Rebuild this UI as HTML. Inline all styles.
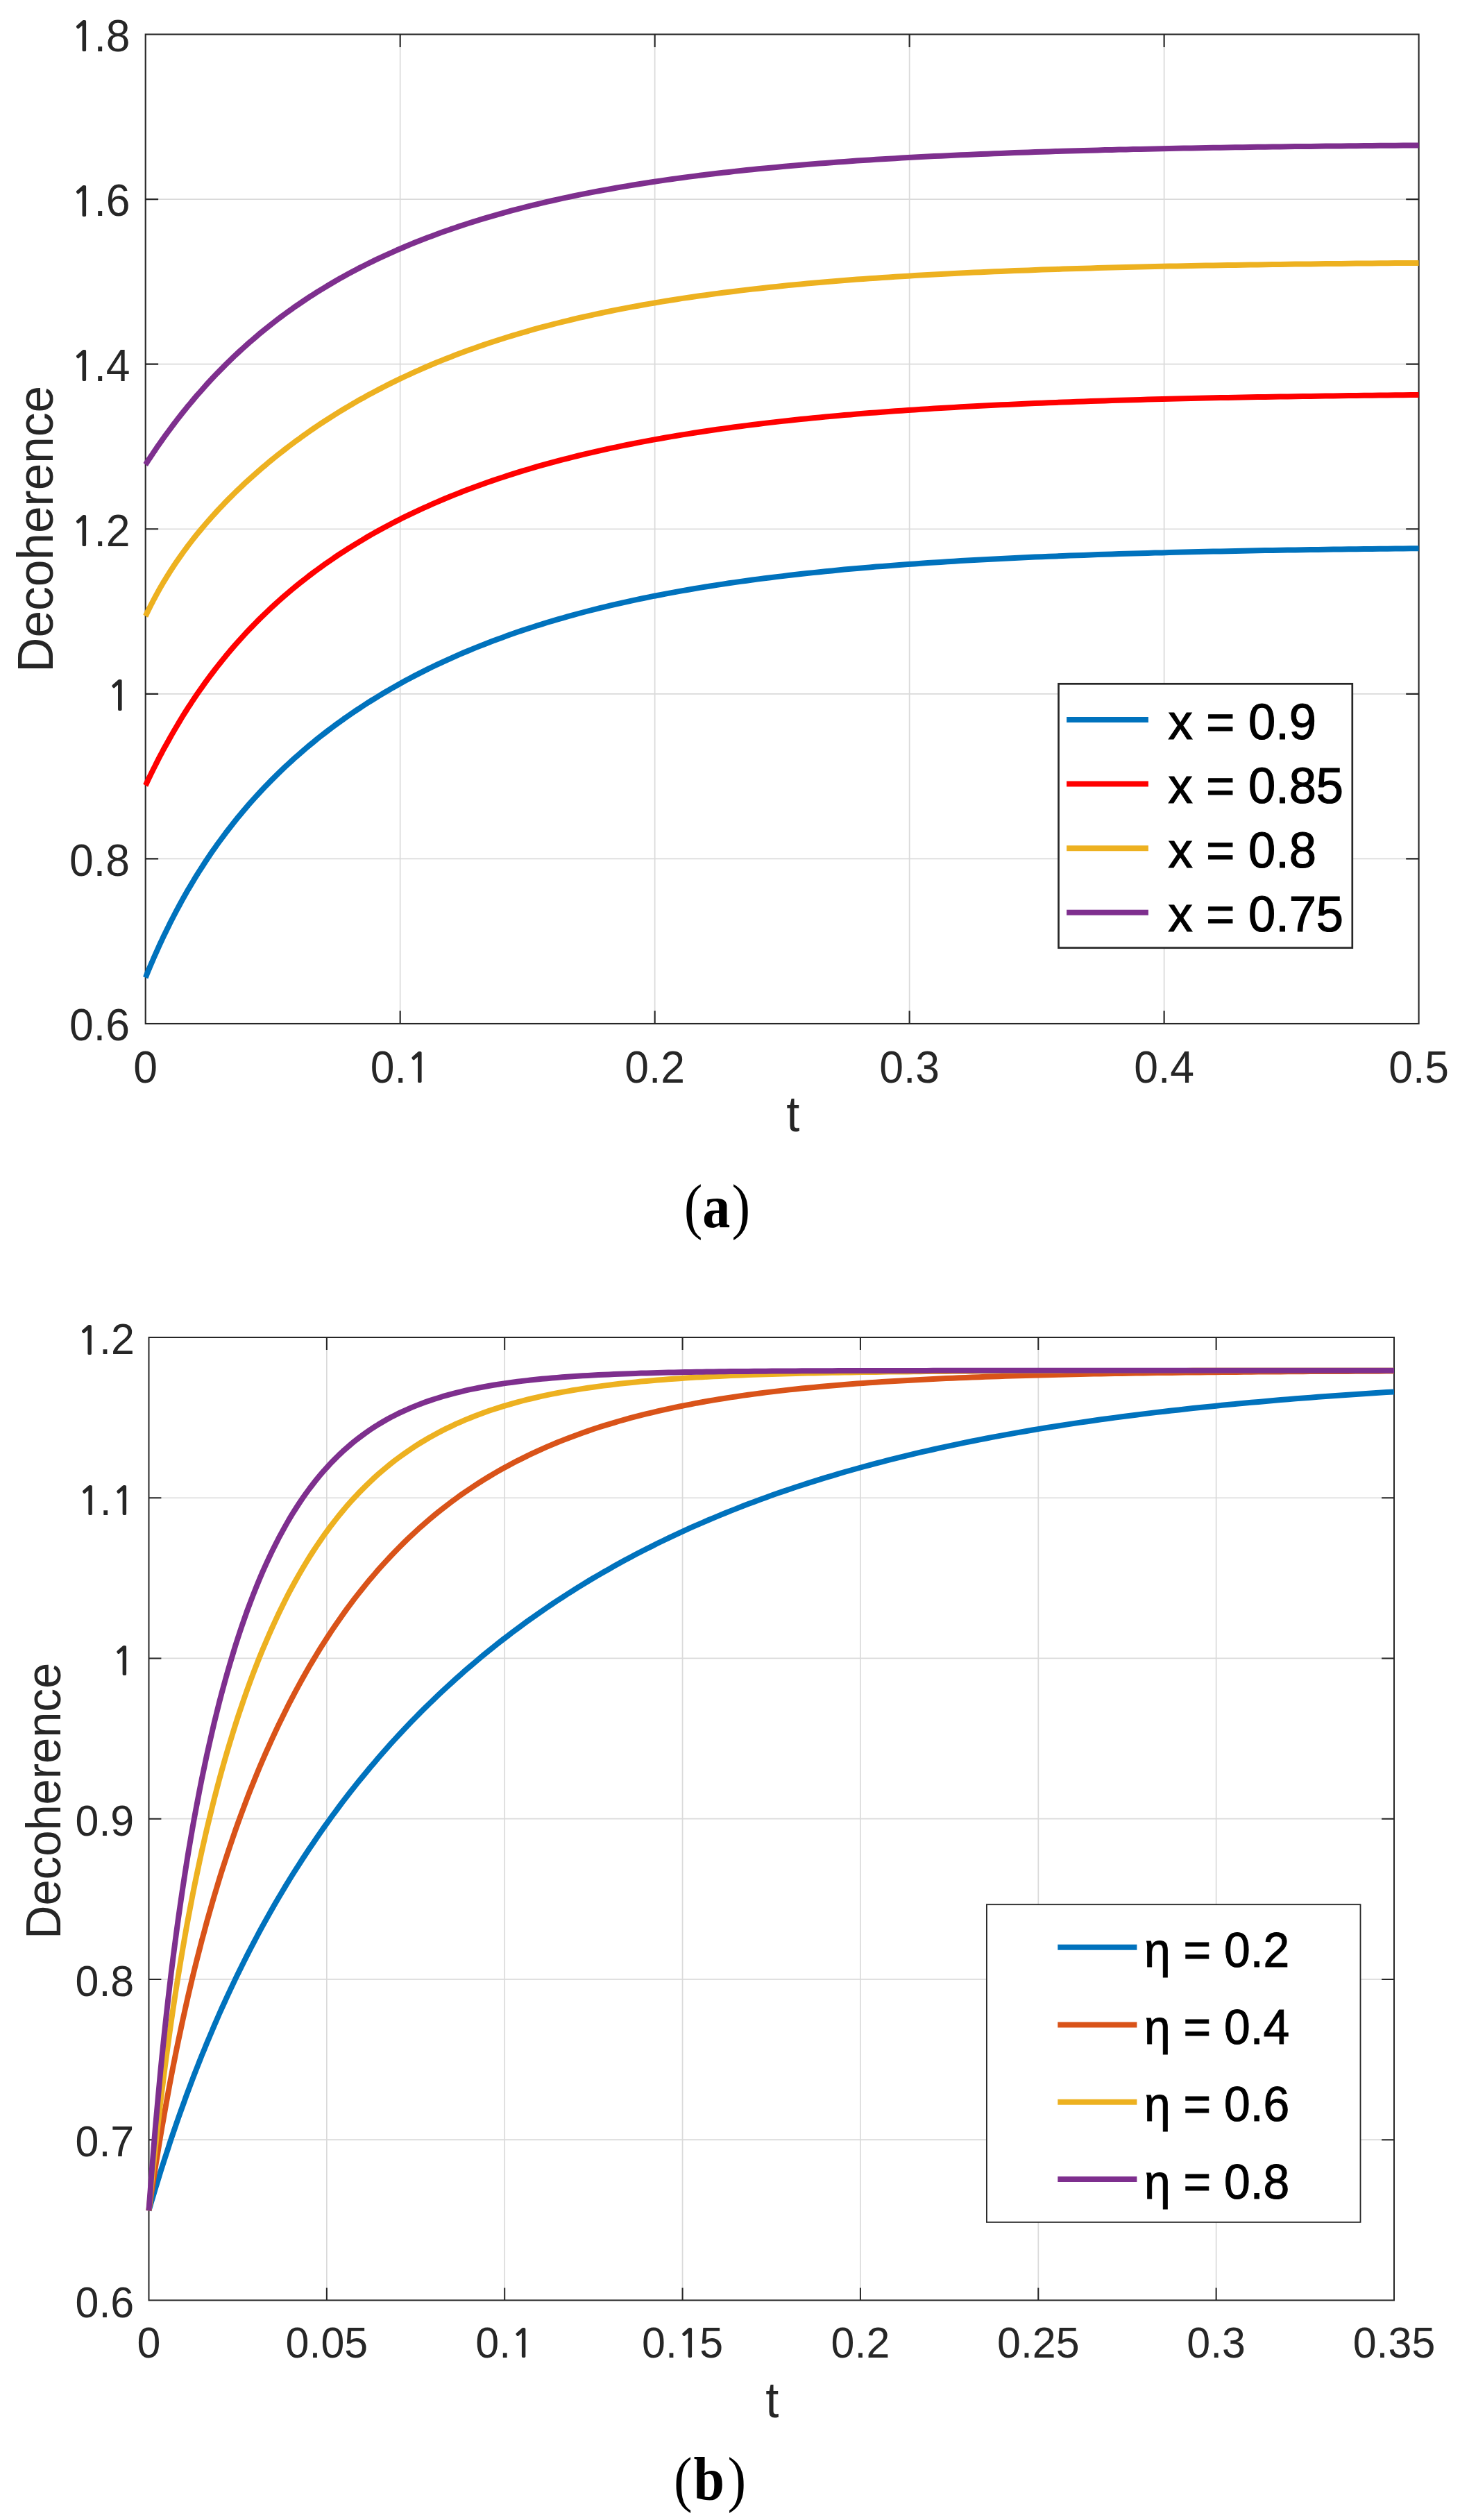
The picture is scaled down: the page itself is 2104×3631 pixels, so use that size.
<!DOCTYPE html>
<html><head><meta charset="utf-8"><title>Decoherence plots</title>
<style>html,body{margin:0;padding:0;background:#fff}svg{display:block}</style></head>
<body>
<svg width="2104" height="3631" viewBox="0 0 2104 3631">
<rect width="2104" height="3631" fill="#fff"/>
<path d="M576.68 49.50V1475.00M943.66 49.50V1475.00M1310.64 49.50V1475.00M1677.62 49.50V1475.00M209.70 1237.42H2044.60M209.70 999.83H2044.60M209.70 762.25H2044.60M209.70 524.67H2044.60M209.70 287.08H2044.60" stroke="#262626" stroke-opacity="0.17" stroke-width="1.70" fill="none"/>
<path d="M576.68 1475.00v-18.40M576.68 49.50v18.40M943.66 1475.00v-18.40M943.66 49.50v18.40M1310.64 1475.00v-18.40M1310.64 49.50v18.40M1677.62 1475.00v-18.40M1677.62 49.50v18.40M209.70 1237.42h18.40M2044.60 1237.42h-18.40M209.70 999.83h18.40M2044.60 999.83h-18.40M209.70 762.25h18.40M2044.60 762.25h-18.40M209.70 524.67h18.40M2044.60 524.67h-18.40M209.70 287.08h18.40M2044.60 287.08h-18.40" stroke="#262626" stroke-width="2.10" fill="none"/>
<rect x="209.70" y="49.50" width="1834.90" height="1425.50" fill="none" stroke="#262626" stroke-width="2.10"/>
<polyline points="209.7,1408.7 210.0,1408.0 210.5,1406.8 211.2,1405.0 212.0,1402.9 213.0,1400.5 214.1,1397.8 215.4,1394.8 216.7,1391.6 218.2,1388.2 219.8,1384.5 221.4,1380.7 223.2,1376.7 225.0,1372.6 226.9,1368.3 228.9,1363.8 231.0,1359.3 233.2,1354.6 235.4,1349.8 237.8,1344.9 240.2,1340.0 242.7,1334.9 245.2,1329.8 247.8,1324.7 250.5,1319.5 253.3,1314.2 256.1,1308.9 259.0,1303.5 261.9,1298.1 264.9,1292.7 268.0,1287.3 271.1,1281.8 274.4,1276.4 277.6,1270.9 280.9,1265.4 284.3,1259.9 287.8,1254.4 291.3,1249.0 294.8,1243.5 298.4,1238.0 302.1,1232.6 305.8,1227.1 309.6,1221.7 313.4,1216.3 317.3,1211.0 321.3,1205.6 325.2,1200.3 329.3,1195.0 333.4,1189.7 337.5,1184.5 341.7,1179.2 346.0,1174.1 350.3,1168.9 354.6,1163.8 359.0,1158.7 363.5,1153.6 368.0,1148.6 372.5,1143.7 377.1,1138.7 381.8,1133.8 386.5,1128.9 391.2,1124.1 396.0,1119.3 400.8,1114.6 405.7,1109.9 410.6,1105.2 415.6,1100.6 420.6,1096.0 425.6,1091.4 430.8,1086.9 435.9,1082.4 441.1,1078.0 446.3,1073.6 451.6,1069.3 456.9,1064.9 462.3,1060.7 467.7,1056.5 473.2,1052.3 478.7,1048.1 484.2,1044.0 489.8,1040.0 495.4,1035.9 501.1,1032.0 506.8,1028.0 512.5,1024.1 518.3,1020.3 524.1,1016.5 530.0,1012.7 535.9,1009.0 541.9,1005.3 547.9,1001.6 553.9,998.0 560.0,994.5 566.1,990.9 572.2,987.5 578.4,984.0 584.6,980.6 590.9,977.2 597.2,973.9 603.6,970.6 610.0,967.4 616.4,964.2 622.8,961.0 629.3,957.9 635.9,954.8 642.4,951.8 649.1,948.8 655.7,945.8 662.4,942.9 669.1,940.0 675.9,937.2 682.7,934.4 689.5,931.6 696.4,928.9 703.3,926.2 710.3,923.5 717.2,920.9 724.3,918.4 731.3,915.8 738.4,913.3 745.5,910.8 752.7,908.4 759.9,906.0 767.1,903.7 774.4,901.3 781.7,899.1 789.0,896.8 796.4,894.6 803.8,892.4 811.3,890.3 818.7,888.1 826.2,886.1 833.8,884.0 841.4,882.0 849.0,880.0 856.6,878.1 864.3,876.2 872.0,874.3 879.8,872.4 887.6,870.6 895.4,868.8 903.3,867.1 911.1,865.4 919.1,863.7 927.0,862.0 935.0,860.4 943.0,858.7 951.1,857.2 959.2,855.6 967.3,854.1 975.4,852.6 983.6,851.1 991.8,849.7 1000.1,848.3 1008.4,846.9 1016.7,845.5 1025.0,844.2 1033.4,842.9 1041.8,841.6 1050.3,840.3 1058.7,839.1 1067.2,837.9 1075.8,836.7 1084.3,835.5 1092.9,834.4 1101.6,833.3 1110.2,832.2 1118.9,831.1 1127.7,830.1 1136.4,829.0 1145.2,828.0 1154.0,827.0 1162.9,826.1 1171.8,825.1 1180.7,824.2 1189.6,823.3 1198.6,822.4 1207.6,821.5 1216.6,820.6 1225.7,819.8 1234.8,819.0 1243.9,818.2 1253.1,817.4 1262.3,816.6 1271.5,815.9 1280.7,815.2 1290.0,814.4 1299.3,813.7 1308.7,813.1 1318.0,812.4 1327.4,811.7 1336.9,811.1 1346.3,810.5 1355.8,809.9 1365.3,809.3 1374.9,808.7 1384.4,808.1 1394.0,807.6 1403.7,807.0 1413.3,806.5 1423.0,806.0 1432.8,805.4 1442.5,805.0 1452.3,804.5 1462.1,804.0 1471.9,803.5 1481.8,803.1 1491.7,802.6 1501.6,802.2 1511.6,801.8 1521.5,801.4 1531.6,801.0 1541.6,800.6 1551.7,800.2 1561.8,799.9 1571.9,799.5 1582.0,799.1 1592.2,798.8 1602.4,798.5 1612.7,798.1 1622.9,797.8 1633.2,797.5 1643.5,797.2 1653.9,796.9 1664.3,796.6 1674.7,796.4 1685.1,796.1 1695.5,795.8 1706.0,795.6 1716.5,795.3 1727.1,795.1 1737.7,794.8 1748.3,794.6 1758.9,794.4 1769.5,794.2 1780.2,793.9 1790.9,793.7 1801.7,793.5 1812.4,793.3 1823.2,793.1 1834.0,792.9 1844.9,792.8 1855.7,792.6 1866.6,792.4 1877.5,792.3 1888.5,792.1 1899.5,791.9 1910.5,791.8 1921.5,791.6 1932.6,791.5 1943.7,791.3 1954.8,791.2 1965.9,791.1 1977.1,790.9 1988.3,790.8 1999.5,790.7 2010.7,790.6 2022.0,790.4 2033.3,790.3 2044.6,790.2" fill="none" stroke="#0072BD" stroke-width="8" stroke-linejoin="round"/>
<polyline points="209.7,1131.8 210.0,1131.3 210.5,1130.2 211.2,1128.7 212.0,1126.9 213.0,1124.8 214.1,1122.4 215.4,1119.8 216.7,1117.0 218.2,1114.0 219.8,1110.8 221.4,1107.5 223.2,1104.0 225.0,1100.4 226.9,1096.6 228.9,1092.7 231.0,1088.7 233.2,1084.6 235.4,1080.3 237.8,1076.0 240.2,1071.7 242.7,1067.2 245.2,1062.7 247.8,1058.1 250.5,1053.4 253.3,1048.7 256.1,1043.9 259.0,1039.1 261.9,1034.3 264.9,1029.4 268.0,1024.5 271.1,1019.6 274.4,1014.7 277.6,1009.7 280.9,1004.8 284.3,999.8 287.8,994.8 291.3,989.9 294.8,984.9 298.4,979.9 302.1,974.9 305.8,970.0 309.6,965.0 313.4,960.1 317.3,955.2 321.3,950.3 325.2,945.4 329.3,940.5 333.4,935.7 337.5,930.9 341.7,926.1 346.0,921.3 350.3,916.6 354.6,911.9 359.0,907.2 363.5,902.6 368.0,898.0 372.5,893.4 377.1,888.9 381.8,884.3 386.5,879.9 391.2,875.4 396.0,871.0 400.8,866.6 405.7,862.3 410.6,858.0 415.6,853.8 420.6,849.5 425.6,845.4 430.8,841.2 435.9,837.1 441.1,833.1 446.3,829.0 451.6,825.0 456.9,821.1 462.3,817.2 467.7,813.3 473.2,809.5 478.7,805.7 484.2,801.9 489.8,798.2 495.4,794.6 501.1,790.9 506.8,787.3 512.5,783.8 518.3,780.3 524.1,776.8 530.0,773.3 535.9,769.9 541.9,766.6 547.9,763.3 553.9,760.0 560.0,756.7 566.1,753.5 572.2,750.4 578.4,747.2 584.6,744.2 590.9,741.1 597.2,738.1 603.6,735.1 610.0,732.2 616.4,729.3 622.8,726.4 629.3,723.6 635.9,720.8 642.4,718.0 649.1,715.3 655.7,712.6 662.4,710.0 669.1,707.3 675.9,704.8 682.7,702.2 689.5,699.7 696.4,697.2 703.3,694.8 710.3,692.4 717.2,690.0 724.3,687.7 731.3,685.4 738.4,683.1 745.5,680.9 752.7,678.7 759.9,676.5 767.1,674.4 774.4,672.2 781.7,670.2 789.0,668.1 796.4,666.1 803.8,664.1 811.3,662.2 818.7,660.3 826.2,658.4 833.8,656.5 841.4,654.7 849.0,652.9 856.6,651.1 864.3,649.3 872.0,647.6 879.8,645.9 887.6,644.3 895.4,642.6 903.3,641.0 911.1,639.5 919.1,637.9 927.0,636.4 935.0,634.9 943.0,633.4 951.1,632.0 959.2,630.5 967.3,629.1 975.4,627.8 983.6,626.4 991.8,625.1 1000.1,623.8 1008.4,622.5 1016.7,621.3 1025.0,620.0 1033.4,618.8 1041.8,617.6 1050.3,616.5 1058.7,615.3 1067.2,614.2 1075.8,613.1 1084.3,612.0 1092.9,611.0 1101.6,609.9 1110.2,608.9 1118.9,607.9 1127.7,606.9 1136.4,606.0 1145.2,605.0 1154.0,604.1 1162.9,603.2 1171.8,602.3 1180.7,601.4 1189.6,600.6 1198.6,599.8 1207.6,598.9 1216.6,598.1 1225.7,597.4 1234.8,596.6 1243.9,595.8 1253.1,595.1 1262.3,594.4 1271.5,593.7 1280.7,593.0 1290.0,592.3 1299.3,591.7 1308.7,591.0 1318.0,590.4 1327.4,589.8 1336.9,589.2 1346.3,588.6 1355.8,588.0 1365.3,587.4 1374.9,586.9 1384.4,586.3 1394.0,585.8 1403.7,585.3 1413.3,584.8 1423.0,584.3 1432.8,583.8 1442.5,583.3 1452.3,582.9 1462.1,582.4 1471.9,582.0 1481.8,581.5 1491.7,581.1 1501.6,580.7 1511.6,580.3 1521.5,579.9 1531.6,579.5 1541.6,579.2 1551.7,578.8 1561.8,578.4 1571.9,578.1 1582.0,577.8 1592.2,577.4 1602.4,577.1 1612.7,576.8 1622.9,576.5 1633.2,576.2 1643.5,575.9 1653.9,575.6 1664.3,575.3 1674.7,575.1 1685.1,574.8 1695.5,574.5 1706.0,574.3 1716.5,574.0 1727.1,573.8 1737.7,573.6 1748.3,573.3 1758.9,573.1 1769.5,572.9 1780.2,572.7 1790.9,572.5 1801.7,572.3 1812.4,572.1 1823.2,571.9 1834.0,571.7 1844.9,571.5 1855.7,571.4 1866.6,571.2 1877.5,571.0 1888.5,570.9 1899.5,570.7 1910.5,570.6 1921.5,570.4 1932.6,570.3 1943.7,570.1 1954.8,570.0 1965.9,569.8 1977.1,569.7 1988.3,569.6 1999.5,569.5 2010.7,569.3 2022.0,569.2 2033.3,569.1 2044.6,569.0" fill="none" stroke="#FF0000" stroke-width="8" stroke-linejoin="round"/>
<polyline points="209.7,887.8 210.0,887.3 210.5,886.2 211.2,884.7 212.0,882.9 213.0,880.9 214.1,878.6 215.4,876.1 216.7,873.4 218.2,870.5 219.8,867.5 221.4,864.3 223.2,861.0 225.0,857.6 226.9,854.1 228.9,850.5 231.0,846.8 233.2,843.0 235.4,839.2 237.8,835.3 240.2,831.4 242.7,827.4 245.2,823.4 247.8,819.3 250.5,815.2 253.3,811.1 256.1,807.0 259.0,802.9 261.9,798.7 264.9,794.5 268.0,790.3 271.1,786.1 274.4,781.9 277.6,777.7 280.9,773.5 284.3,769.3 287.8,765.1 291.3,760.9 294.8,756.7 298.4,752.5 302.1,748.3 305.8,744.1 309.6,740.0 313.4,735.8 317.3,731.6 321.3,727.5 325.2,723.3 329.3,719.2 333.4,715.1 337.5,711.0 341.7,706.9 346.0,702.8 350.3,698.8 354.6,694.7 359.0,690.7 363.5,686.7 368.0,682.7 372.5,678.7 377.1,674.7 381.8,670.8 386.5,666.8 391.2,662.9 396.0,659.0 400.8,655.1 405.7,651.3 410.6,647.5 415.6,643.6 420.6,639.9 425.6,636.1 430.8,632.4 435.9,628.6 441.1,625.0 446.3,621.3 451.6,617.6 456.9,614.0 462.3,610.4 467.7,606.9 473.2,603.3 478.7,599.8 484.2,596.4 489.8,592.9 495.4,589.5 501.1,586.1 506.8,582.8 512.5,579.4 518.3,576.1 524.1,572.9 530.0,569.6 535.9,566.4 541.9,563.3 547.9,560.1 553.9,557.0 560.0,553.9 566.1,550.9 572.2,547.9 578.4,544.9 584.6,542.0 590.9,539.1 597.2,536.2 603.6,533.3 610.0,530.5 616.4,527.8 622.8,525.0 629.3,522.3 635.9,519.6 642.4,517.0 649.1,514.4 655.7,511.8 662.4,509.3 669.1,506.8 675.9,504.3 682.7,501.9 689.5,499.5 696.4,497.1 703.3,494.8 710.3,492.5 717.2,490.2 724.3,488.0 731.3,485.8 738.4,483.6 745.5,481.5 752.7,479.4 759.9,477.3 767.1,475.2 774.4,473.2 781.7,471.2 789.0,469.3 796.4,467.4 803.8,465.5 811.3,463.6 818.7,461.8 826.2,460.0 833.8,458.2 841.4,456.5 849.0,454.8 856.6,453.1 864.3,451.5 872.0,449.8 879.8,448.3 887.6,446.7 895.4,445.1 903.3,443.6 911.1,442.1 919.1,440.7 927.0,439.3 935.0,437.9 943.0,436.5 951.1,435.1 959.2,433.8 967.3,432.5 975.4,431.2 983.6,429.9 991.8,428.7 1000.1,427.5 1008.4,426.3 1016.7,425.2 1025.0,424.0 1033.4,422.9 1041.8,421.8 1050.3,420.7 1058.7,419.7 1067.2,418.6 1075.8,417.6 1084.3,416.6 1092.9,415.7 1101.6,414.7 1110.2,413.8 1118.9,412.9 1127.7,412.0 1136.4,411.1 1145.2,410.3 1154.0,409.4 1162.9,408.6 1171.8,407.8 1180.7,407.0 1189.6,406.2 1198.6,405.5 1207.6,404.8 1216.6,404.0 1225.7,403.3 1234.8,402.6 1243.9,402.0 1253.1,401.3 1262.3,400.7 1271.5,400.0 1280.7,399.4 1290.0,398.8 1299.3,398.2 1308.7,397.7 1318.0,397.1 1327.4,396.6 1336.9,396.0 1346.3,395.5 1355.8,395.0 1365.3,394.5 1374.9,394.0 1384.4,393.5 1394.0,393.1 1403.7,392.6 1413.3,392.2 1423.0,391.7 1432.8,391.3 1442.5,390.9 1452.3,390.5 1462.1,390.1 1471.9,389.7 1481.8,389.4 1491.7,389.0 1501.6,388.6 1511.6,388.3 1521.5,388.0 1531.6,387.6 1541.6,387.3 1551.7,387.0 1561.8,386.7 1571.9,386.4 1582.0,386.1 1592.2,385.8 1602.4,385.6 1612.7,385.3 1622.9,385.0 1633.2,384.8 1643.5,384.5 1653.9,384.3 1664.3,384.1 1674.7,383.8 1685.1,383.6 1695.5,383.4 1706.0,383.2 1716.5,383.0 1727.1,382.8 1737.7,382.6 1748.3,382.4 1758.9,382.2 1769.5,382.0 1780.2,381.9 1790.9,381.7 1801.7,381.5 1812.4,381.4 1823.2,381.2 1834.0,381.1 1844.9,380.9 1855.7,380.8 1866.6,380.6 1877.5,380.5 1888.5,380.4 1899.5,380.2 1910.5,380.1 1921.5,380.0 1932.6,379.9 1943.7,379.8 1954.8,379.6 1965.9,379.5 1977.1,379.4 1988.3,379.3 1999.5,379.2 2010.7,379.1 2022.0,379.0 2033.3,379.0 2044.6,378.9" fill="none" stroke="#EDB120" stroke-width="8" stroke-linejoin="round"/>
<polyline points="209.7,669.5 210.0,669.1 210.5,668.3 211.2,667.2 212.0,665.9 213.0,664.3 214.1,662.6 215.4,660.7 216.7,658.7 218.2,656.5 219.8,654.2 221.4,651.7 223.2,649.1 225.0,646.4 226.9,643.6 228.9,640.7 231.0,637.7 233.2,634.6 235.4,631.5 237.8,628.2 240.2,624.9 242.7,621.5 245.2,618.1 247.8,614.6 250.5,611.0 253.3,607.4 256.1,603.7 259.0,600.0 261.9,596.3 264.9,592.5 268.0,588.7 271.1,584.8 274.4,581.0 277.6,577.1 280.9,573.2 284.3,569.2 287.8,565.3 291.3,561.3 294.8,557.3 298.4,553.3 302.1,549.3 305.8,545.3 309.6,541.3 313.4,537.3 317.3,533.4 321.3,529.4 325.2,525.4 329.3,521.4 333.4,517.4 337.5,513.4 341.7,509.5 346.0,505.5 350.3,501.6 354.6,497.7 359.0,493.8 363.5,489.9 368.0,486.1 372.5,482.2 377.1,478.4 381.8,474.6 386.5,470.9 391.2,467.1 396.0,463.4 400.8,459.7 405.7,456.0 410.6,452.4 415.6,448.8 420.6,445.2 425.6,441.6 430.8,438.1 435.9,434.6 441.1,431.1 446.3,427.7 451.6,424.3 456.9,420.9 462.3,417.6 467.7,414.3 473.2,411.0 478.7,407.7 484.2,404.5 489.8,401.3 495.4,398.2 501.1,395.1 506.8,392.0 512.5,389.0 518.3,385.9 524.1,383.0 530.0,380.0 535.9,377.1 541.9,374.2 547.9,371.4 553.9,368.6 560.0,365.8 566.1,363.1 572.2,360.3 578.4,357.7 584.6,355.0 590.9,352.4 597.2,349.8 603.6,347.3 610.0,344.8 616.4,342.3 622.8,339.9 629.3,337.5 635.9,335.1 642.4,332.8 649.1,330.4 655.7,328.2 662.4,325.9 669.1,323.7 675.9,321.5 682.7,319.4 689.5,317.2 696.4,315.1 703.3,313.1 710.3,311.1 717.2,309.1 724.3,307.1 731.3,305.1 738.4,303.2 745.5,301.4 752.7,299.5 759.9,297.7 767.1,295.9 774.4,294.1 781.7,292.4 789.0,290.7 796.4,289.0 803.8,287.3 811.3,285.7 818.7,284.1 826.2,282.5 833.8,280.9 841.4,279.4 849.0,277.9 856.6,276.4 864.3,275.0 872.0,273.6 879.8,272.2 887.6,270.8 895.4,269.4 903.3,268.1 911.1,266.8 919.1,265.5 927.0,264.2 935.0,263.0 943.0,261.8 951.1,260.6 959.2,259.4 967.3,258.3 975.4,257.1 983.6,256.0 991.8,254.9 1000.1,253.9 1008.4,252.8 1016.7,251.8 1025.0,250.8 1033.4,249.8 1041.8,248.8 1050.3,247.9 1058.7,246.9 1067.2,246.0 1075.8,245.1 1084.3,244.2 1092.9,243.3 1101.6,242.5 1110.2,241.7 1118.9,240.9 1127.7,240.1 1136.4,239.3 1145.2,238.5 1154.0,237.7 1162.9,237.0 1171.8,236.3 1180.7,235.6 1189.6,234.9 1198.6,234.2 1207.6,233.5 1216.6,232.9 1225.7,232.3 1234.8,231.6 1243.9,231.0 1253.1,230.4 1262.3,229.8 1271.5,229.3 1280.7,228.7 1290.0,228.2 1299.3,227.6 1308.7,227.1 1318.0,226.6 1327.4,226.1 1336.9,225.6 1346.3,225.1 1355.8,224.7 1365.3,224.2 1374.9,223.7 1384.4,223.3 1394.0,222.9 1403.7,222.5 1413.3,222.1 1423.0,221.7 1432.8,221.3 1442.5,220.9 1452.3,220.5 1462.1,220.1 1471.9,219.8 1481.8,219.4 1491.7,219.1 1501.6,218.8 1511.6,218.5 1521.5,218.1 1531.6,217.8 1541.6,217.5 1551.7,217.2 1561.8,216.9 1571.9,216.7 1582.0,216.4 1592.2,216.1 1602.4,215.9 1612.7,215.6 1622.9,215.4 1633.2,215.1 1643.5,214.9 1653.9,214.7 1664.3,214.4 1674.7,214.2 1685.1,214.0 1695.5,213.8 1706.0,213.6 1716.5,213.4 1727.1,213.2 1737.7,213.0 1748.3,212.8 1758.9,212.7 1769.5,212.5 1780.2,212.3 1790.9,212.2 1801.7,212.0 1812.4,211.8 1823.2,211.7 1834.0,211.5 1844.9,211.4 1855.7,211.3 1866.6,211.1 1877.5,211.0 1888.5,210.9 1899.5,210.7 1910.5,210.6 1921.5,210.5 1932.6,210.4 1943.7,210.3 1954.8,210.2 1965.9,210.1 1977.1,209.9 1988.3,209.8 1999.5,209.7 2010.7,209.7 2022.0,209.6 2033.3,209.5 2044.6,209.4" fill="none" stroke="#7E2F8E" stroke-width="8" stroke-linejoin="round"/>
<g font-family='"Liberation Sans", Arial, Helvetica, sans-serif' font-size="62.50" fill="#262626">
<g text-anchor="middle">
<text transform="translate(209.70 1560.30) scale(1.000 1.035)">0</text>
<text transform="translate(576.68 1560.30) scale(1.000 1.035)">0.<tspan font-family="NanumGothic, 'Liberation Sans', sans-serif" font-size="54.8" stroke="#262626" stroke-width="1.8" dx="0.7" dy="-0.8">1</tspan></text>
<text transform="translate(943.66 1560.30) scale(1.000 1.035)">0.2</text>
<text transform="translate(1310.64 1560.30) scale(1.000 1.035)">0.3</text>
<text transform="translate(1677.62 1560.30) scale(1.000 1.035)">0.4</text>
<text transform="translate(2044.60 1560.30) scale(1.000 1.035)">0.5</text>
</g><g text-anchor="end">
<text transform="translate(186.90 1499.30) scale(1.000 1.035)">0.6</text>
<text transform="translate(186.90 1261.72) scale(1.000 1.035)">0.8</text>
<text transform="translate(186.90 1024.13) scale(1.000 1.035)"><tspan font-family="NanumGothic, 'Liberation Sans', sans-serif" font-size="54.8" stroke="#262626" stroke-width="1.8" dx="0.7" dy="-0.8">1</tspan></text>
<text transform="translate(186.90 786.55) scale(1.000 1.035)"><tspan font-family="NanumGothic, 'Liberation Sans', sans-serif" font-size="54.8" stroke="#262626" stroke-width="1.8" dx="0.7" dy="-0.8">1</tspan><tspan dx="-0.7" dy="0.8">.</tspan>2</text>
<text transform="translate(186.90 548.97) scale(1.000 1.035)"><tspan font-family="NanumGothic, 'Liberation Sans', sans-serif" font-size="54.8" stroke="#262626" stroke-width="1.8" dx="0.7" dy="-0.8">1</tspan><tspan dx="-0.7" dy="0.8">.</tspan>4</text>
<text transform="translate(186.90 311.38) scale(1.000 1.035)"><tspan font-family="NanumGothic, 'Liberation Sans', sans-serif" font-size="54.8" stroke="#262626" stroke-width="1.8" dx="0.7" dy="-0.8">1</tspan><tspan dx="-0.7" dy="0.8">.</tspan>6</text>
<text transform="translate(186.90 73.80) scale(1.000 1.035)"><tspan font-family="NanumGothic, 'Liberation Sans', sans-serif" font-size="54.8" stroke="#262626" stroke-width="1.8" dx="0.7" dy="-0.8">1</tspan><tspan dx="-0.7" dy="0.8">.</tspan>8</text>
</g></g>
<g font-family='"Liberation Sans", Arial, Helvetica, sans-serif' font-size="68.75" fill="#262626" text-anchor="middle">
<text transform="translate(1142.70 1630.00) scale(1.000 1.045)">t</text>
<text font-size="69.40" transform="translate(75.80 762.25) rotate(-90) scale(1 1.040)">Decoherence</text>
</g>
<path d="M470.86 1927.00V3314.40M727.21 1927.00V3314.40M983.57 1927.00V3314.40M1239.93 1927.00V3314.40M1496.29 1927.00V3314.40M1752.64 1927.00V3314.40M214.50 3083.17H2009.00M214.50 2851.93H2009.00M214.50 2620.70H2009.00M214.50 2389.47H2009.00M214.50 2158.23H2009.00" stroke="#262626" stroke-opacity="0.17" stroke-width="1.70" fill="none"/>
<path d="M470.86 3314.40v-17.90M470.86 1927.00v17.90M727.21 3314.40v-17.90M727.21 1927.00v17.90M983.57 3314.40v-17.90M983.57 1927.00v17.90M1239.93 3314.40v-17.90M1239.93 1927.00v17.90M1496.29 3314.40v-17.90M1496.29 1927.00v17.90M1752.64 3314.40v-17.90M1752.64 1927.00v17.90M214.50 3083.17h17.90M2009.00 3083.17h-17.90M214.50 2851.93h17.90M2009.00 2851.93h-17.90M214.50 2620.70h17.90M2009.00 2620.70h-17.90M214.50 2389.47h17.90M2009.00 2389.47h-17.90M214.50 2158.23h17.90M2009.00 2158.23h-17.90" stroke="#262626" stroke-width="2.00" fill="none"/>
<rect x="214.50" y="1927.00" width="1794.50" height="1387.40" fill="none" stroke="#262626" stroke-width="2.00"/>
<polyline points="214.5,3185.3 214.7,3184.4 215.2,3182.7 215.9,3180.3 216.8,3177.5 217.7,3174.1 218.8,3170.4 220.1,3166.3 221.4,3161.9 222.8,3157.1 224.3,3152.1 226.0,3146.8 227.7,3141.2 229.5,3135.4 231.3,3129.3 233.3,3123.1 235.4,3116.6 237.5,3110.0 239.7,3103.2 242.0,3096.2 244.3,3089.1 246.7,3081.8 249.2,3074.4 251.8,3066.9 254.4,3059.3 257.1,3051.5 259.9,3043.7 262.7,3035.8 265.6,3027.8 268.5,3019.7 271.5,3011.6 274.6,3003.4 277.7,2995.1 280.9,2986.8 284.2,2978.4 287.5,2970.0 290.8,2961.6 294.3,2953.2 297.7,2944.7 301.3,2936.2 304.9,2927.7 308.5,2919.1 312.2,2910.6 315.9,2902.0 319.7,2893.5 323.6,2885.0 327.5,2876.4 331.5,2867.9 335.5,2859.4 339.5,2850.9 343.6,2842.4 347.8,2833.9 352.0,2825.5 356.2,2817.1 360.5,2808.7 364.9,2800.3 369.3,2792.0 373.7,2783.7 378.2,2775.4 382.8,2767.1 387.4,2758.9 392.0,2750.8 396.7,2742.6 401.4,2734.5 406.2,2726.5 411.0,2718.4 415.8,2710.5 420.7,2702.5 425.7,2694.6 430.7,2686.8 435.7,2679.0 440.8,2671.2 445.9,2663.5 451.1,2655.9 456.3,2648.2 461.5,2640.7 466.8,2633.1 472.2,2625.7 477.5,2618.2 483.0,2610.8 488.4,2603.5 493.9,2596.2 499.4,2589.0 505.0,2581.8 510.6,2574.7 516.3,2567.6 522.0,2560.6 527.8,2553.6 533.5,2546.6 539.4,2539.8 545.2,2532.9 551.1,2526.2 557.1,2519.4 563.0,2512.7 569.0,2506.1 575.1,2499.5 581.2,2493.0 587.3,2486.6 593.5,2480.1 599.7,2473.8 605.9,2467.4 612.2,2461.2 618.5,2455.0 624.9,2448.8 631.3,2442.7 637.7,2436.6 644.2,2430.6 650.7,2424.7 657.2,2418.8 663.8,2412.9 670.4,2407.1 677.1,2401.4 683.8,2395.7 690.5,2390.0 697.2,2384.4 704.0,2378.9 710.9,2373.4 717.7,2367.9 724.6,2362.5 731.6,2357.2 738.5,2351.9 745.5,2346.7 752.6,2341.5 759.6,2336.3 766.8,2331.2 773.9,2326.2 781.1,2321.2 788.3,2316.3 795.5,2311.4 802.8,2306.5 810.1,2301.8 817.5,2297.0 824.9,2292.3 832.3,2287.7 839.7,2283.1 847.2,2278.5 854.7,2274.0 862.3,2269.6 869.8,2265.2 877.5,2260.9 885.1,2256.6 892.8,2252.3 900.5,2248.1 908.2,2243.9 916.0,2239.8 923.8,2235.8 931.7,2231.7 939.6,2227.8 947.5,2223.8 955.4,2220.0 963.4,2216.1 971.4,2212.3 979.4,2208.6 987.5,2204.9 995.6,2201.2 1003.7,2197.6 1011.9,2194.1 1020.1,2190.5 1028.3,2187.1 1036.6,2183.6 1044.8,2180.2 1053.2,2176.9 1061.5,2173.6 1069.9,2170.3 1078.3,2167.1 1086.7,2163.9 1095.2,2160.8 1103.7,2157.7 1112.3,2154.6 1120.8,2151.6 1129.4,2148.6 1138.0,2145.7 1146.7,2142.8 1155.4,2140.0 1164.1,2137.1 1172.9,2134.4 1181.6,2131.6 1190.4,2128.9 1199.3,2126.3 1208.1,2123.6 1217.0,2121.0 1226.0,2118.5 1234.9,2116.0 1243.9,2113.5 1252.9,2111.1 1262.0,2108.6 1271.0,2106.3 1280.1,2103.9 1289.3,2101.6 1298.4,2099.4 1307.6,2097.1 1316.8,2094.9 1326.1,2092.7 1335.4,2090.6 1344.7,2088.5 1354.0,2086.4 1363.4,2084.4 1372.8,2082.4 1382.2,2080.4 1391.6,2078.4 1401.1,2076.5 1410.6,2074.6 1420.2,2072.8 1429.7,2070.9 1439.3,2069.1 1448.9,2067.4 1458.6,2065.6 1468.3,2063.9 1478.0,2062.2 1487.7,2060.5 1497.5,2058.9 1507.3,2057.3 1517.1,2055.7 1526.9,2054.2 1536.8,2052.6 1546.7,2051.1 1556.6,2049.6 1566.6,2048.2 1576.6,2046.8 1586.6,2045.3 1596.6,2044.0 1606.7,2042.6 1616.8,2041.3 1626.9,2040.0 1637.0,2038.7 1647.2,2037.4 1657.4,2036.1 1667.6,2034.9 1677.9,2033.7 1688.2,2032.5 1698.5,2031.4 1708.8,2030.2 1719.2,2029.1 1729.6,2028.0 1740.0,2026.9 1750.4,2025.9 1760.9,2024.8 1771.4,2023.8 1781.9,2022.8 1792.5,2021.8 1803.1,2020.8 1813.7,2019.9 1824.3,2018.9 1834.9,2018.0 1845.6,2017.1 1856.3,2016.2 1867.1,2015.3 1877.8,2014.5 1888.6,2013.7 1899.4,2012.8 1910.3,2012.0 1921.1,2011.2 1932.0,2010.5 1942.9,2009.7 1953.9,2009.0 1964.9,2008.2 1975.9,2007.5 1986.9,2006.8 1997.9,2006.1 2009.0,2005.4" fill="none" stroke="#0072BD" stroke-width="8" stroke-linejoin="round"/>
<polyline points="214.5,3185.3 214.7,3183.6 215.2,3180.1 215.9,3175.4 216.8,3169.8 217.7,3163.2 218.8,3155.9 220.1,3147.9 221.4,3139.2 222.8,3130.0 224.3,3120.4 226.0,3110.2 227.7,3099.6 229.5,3088.7 231.3,3077.5 233.3,3065.9 235.4,3054.1 237.5,3042.0 239.7,3029.7 242.0,3017.3 244.3,3004.6 246.7,2991.9 249.2,2979.0 251.8,2966.1 254.4,2953.0 257.1,2940.0 259.9,2926.8 262.7,2913.7 265.6,2900.5 268.5,2887.3 271.5,2874.2 274.6,2861.0 277.7,2847.9 280.9,2834.9 284.2,2821.8 287.5,2808.9 290.8,2796.0 294.3,2783.2 297.7,2770.4 301.3,2757.7 304.9,2745.2 308.5,2732.7 312.2,2720.3 315.9,2708.0 319.7,2695.8 323.6,2683.7 327.5,2671.7 331.5,2659.8 335.5,2648.0 339.5,2636.4 343.6,2624.8 347.8,2613.4 352.0,2602.1 356.2,2590.9 360.5,2579.8 364.9,2568.9 369.3,2558.0 373.7,2547.3 378.2,2536.7 382.8,2526.2 387.4,2515.9 392.0,2505.6 396.7,2495.5 401.4,2485.5 406.2,2475.7 411.0,2465.9 415.8,2456.3 420.7,2446.8 425.7,2437.4 430.7,2428.2 435.7,2419.0 440.8,2410.0 445.9,2401.1 451.1,2392.4 456.3,2383.7 461.5,2375.2 466.8,2366.8 472.2,2358.5 477.5,2350.4 483.0,2342.3 488.4,2334.4 493.9,2326.6 499.4,2318.9 505.0,2311.4 510.6,2303.9 516.3,2296.6 522.0,2289.4 527.8,2282.3 533.5,2275.3 539.4,2268.5 545.2,2261.7 551.1,2255.1 557.1,2248.6 563.0,2242.2 569.0,2235.9 575.1,2229.7 581.2,2223.6 587.3,2217.7 593.5,2211.8 599.7,2206.1 605.9,2200.4 612.2,2194.9 618.5,2189.5 624.9,2184.2 631.3,2178.9 637.7,2173.8 644.2,2168.8 650.7,2163.9 657.2,2159.1 663.8,2154.3 670.4,2149.7 677.1,2145.2 683.8,2140.7 690.5,2136.4 697.2,2132.1 704.0,2128.0 710.9,2123.9 717.7,2119.9 724.6,2116.0 731.6,2112.2 738.5,2108.5 745.5,2104.8 752.6,2101.3 759.6,2097.8 766.8,2094.4 773.9,2091.1 781.1,2087.8 788.3,2084.7 795.5,2081.6 802.8,2078.5 810.1,2075.6 817.5,2072.7 824.9,2069.9 832.3,2067.2 839.7,2064.5 847.2,2061.9 854.7,2059.3 862.3,2056.8 869.8,2054.4 877.5,2052.1 885.1,2049.8 892.8,2047.5 900.5,2045.4 908.2,2043.2 916.0,2041.2 923.8,2039.1 931.7,2037.2 939.6,2035.3 947.5,2033.4 955.4,2031.6 963.4,2029.8 971.4,2028.1 979.4,2026.5 987.5,2024.9 995.6,2023.3 1003.7,2021.7 1011.9,2020.3 1020.1,2018.8 1028.3,2017.4 1036.6,2016.0 1044.8,2014.7 1053.2,2013.4 1061.5,2012.2 1069.9,2010.9 1078.3,2009.8 1086.7,2008.6 1095.2,2007.5 1103.7,2006.4 1112.3,2005.4 1120.8,2004.4 1129.4,2003.4 1138.0,2002.4 1146.7,2001.5 1155.4,2000.6 1164.1,1999.7 1172.9,1998.9 1181.6,1998.0 1190.4,1997.2 1199.3,1996.5 1208.1,1995.7 1217.0,1995.0 1226.0,1994.3 1234.9,1993.6 1243.9,1993.0 1252.9,1992.3 1262.0,1991.7 1271.0,1991.1 1280.1,1990.5 1289.3,1990.0 1298.4,1989.4 1307.6,1988.9 1316.8,1988.4 1326.1,1987.9 1335.4,1987.4 1344.7,1987.0 1354.0,1986.5 1363.4,1986.1 1372.8,1985.7 1382.2,1985.3 1391.6,1984.9 1401.1,1984.5 1410.6,1984.2 1420.2,1983.8 1429.7,1983.5 1439.3,1983.2 1448.9,1982.8 1458.6,1982.5 1468.3,1982.2 1478.0,1982.0 1487.7,1981.7 1497.5,1981.4 1507.3,1981.2 1517.1,1980.9 1526.9,1980.7 1536.8,1980.5 1546.7,1980.2 1556.6,1980.0 1566.6,1979.8 1576.6,1979.6 1586.6,1979.4 1596.6,1979.2 1606.7,1979.1 1616.8,1978.9 1626.9,1978.7 1637.0,1978.6 1647.2,1978.4 1657.4,1978.3 1667.6,1978.1 1677.9,1978.0 1688.2,1977.9 1698.5,1977.7 1708.8,1977.6 1719.2,1977.5 1729.6,1977.4 1740.0,1977.3 1750.4,1977.2 1760.9,1977.1 1771.4,1977.0 1781.9,1976.9 1792.5,1976.8 1803.1,1976.7 1813.7,1976.6 1824.3,1976.6 1834.9,1976.5 1845.6,1976.4 1856.3,1976.3 1867.1,1976.3 1877.8,1976.2 1888.6,1976.1 1899.4,1976.1 1910.3,1976.0 1921.1,1976.0 1932.0,1975.9 1942.9,1975.9 1953.9,1975.8 1964.9,1975.8 1975.9,1975.7 1986.9,1975.7 1997.9,1975.6 2009.0,1975.6" fill="none" stroke="#D95319" stroke-width="8" stroke-linejoin="round"/>
<polyline points="214.5,3185.3 214.7,3182.7 215.2,3177.5 215.9,3170.6 216.8,3162.1 217.7,3152.4 218.8,3141.6 220.1,3129.9 221.4,3117.3 222.8,3104.0 224.3,3090.0 226.0,3075.5 227.7,3060.5 229.5,3045.0 231.3,3029.2 233.3,3013.2 235.4,2996.8 237.5,2980.3 239.7,2963.6 242.0,2946.8 244.3,2929.9 246.7,2912.9 249.2,2895.9 251.8,2879.0 254.4,2862.0 257.1,2845.2 259.9,2828.4 262.7,2811.6 265.6,2795.0 268.5,2778.5 271.5,2762.1 274.6,2745.9 277.7,2729.8 280.9,2713.9 284.2,2698.1 287.5,2682.5 290.8,2667.1 294.3,2651.9 297.7,2636.8 301.3,2622.0 304.9,2607.3 308.5,2592.8 312.2,2578.6 315.9,2564.5 319.7,2550.6 323.6,2536.9 327.5,2523.4 331.5,2510.2 335.5,2497.1 339.5,2484.2 343.6,2471.5 347.8,2459.1 352.0,2446.8 356.2,2434.8 360.5,2422.9 364.9,2411.2 369.3,2399.8 373.7,2388.5 378.2,2377.5 382.8,2366.7 387.4,2356.0 392.0,2345.6 396.7,2335.3 401.4,2325.3 406.2,2315.4 411.0,2305.8 415.8,2296.3 420.7,2287.1 425.7,2278.0 430.7,2269.1 435.7,2260.5 440.8,2252.0 445.9,2243.7 451.1,2235.5 456.3,2227.6 461.5,2219.9 466.8,2212.3 472.2,2204.9 477.5,2197.7 483.0,2190.6 488.4,2183.8 493.9,2177.1 499.4,2170.5 505.0,2164.2 510.6,2158.0 516.3,2151.9 522.0,2146.1 527.8,2140.3 533.5,2134.8 539.4,2129.3 545.2,2124.1 551.1,2119.0 557.1,2114.0 563.0,2109.1 569.0,2104.4 575.1,2099.9 581.2,2095.5 587.3,2091.2 593.5,2087.0 599.7,2082.9 605.9,2079.0 612.2,2075.2 618.5,2071.5 624.9,2068.0 631.3,2064.5 637.7,2061.1 644.2,2057.9 650.7,2054.8 657.2,2051.7 663.8,2048.8 670.4,2045.9 677.1,2043.2 683.8,2040.5 690.5,2038.0 697.2,2035.5 704.0,2033.1 710.9,2030.8 717.7,2028.6 724.6,2026.4 731.6,2024.3 738.5,2022.3 745.5,2020.4 752.6,2018.5 759.6,2016.7 766.8,2015.0 773.9,2013.3 781.1,2011.7 788.3,2010.2 795.5,2008.7 802.8,2007.3 810.1,2005.9 817.5,2004.6 824.9,2003.3 832.3,2002.1 839.7,2000.9 847.2,1999.8 854.7,1998.7 862.3,1997.6 869.8,1996.6 877.5,1995.7 885.1,1994.7 892.8,1993.8 900.5,1993.0 908.2,1992.2 916.0,1991.4 923.8,1990.6 931.7,1989.9 939.6,1989.2 947.5,1988.6 955.4,1987.9 963.4,1987.3 971.4,1986.7 979.4,1986.2 987.5,1985.6 995.6,1985.1 1003.7,1984.6 1011.9,1984.2 1020.1,1983.7 1028.3,1983.3 1036.6,1982.9 1044.8,1982.5 1053.2,1982.1 1061.5,1981.8 1069.9,1981.4 1078.3,1981.1 1086.7,1980.8 1095.2,1980.5 1103.7,1980.2 1112.3,1979.9 1120.8,1979.7 1129.4,1979.4 1138.0,1979.2 1146.7,1979.0 1155.4,1978.8 1164.1,1978.6 1172.9,1978.4 1181.6,1978.2 1190.4,1978.0 1199.3,1977.8 1208.1,1977.7 1217.0,1977.5 1226.0,1977.4 1234.9,1977.2 1243.9,1977.1 1252.9,1977.0 1262.0,1976.9 1271.0,1976.7 1280.1,1976.6 1289.3,1976.5 1298.4,1976.4 1307.6,1976.4 1316.8,1976.3 1326.1,1976.2 1335.4,1976.1 1344.7,1976.0 1354.0,1976.0 1363.4,1975.9 1372.8,1975.8 1382.2,1975.8 1391.6,1975.7 1401.1,1975.7 1410.6,1975.6 1420.2,1975.6 1429.7,1975.5 1439.3,1975.5 1448.9,1975.4 1458.6,1975.4 1468.3,1975.3 1478.0,1975.3 1487.7,1975.3 1497.5,1975.2 1507.3,1975.2 1517.1,1975.2 1526.9,1975.2 1536.8,1975.1 1546.7,1975.1 1556.6,1975.1 1566.6,1975.1 1576.6,1975.0 1586.6,1975.0 1596.6,1975.0 1606.7,1975.0 1616.8,1975.0 1626.9,1975.0 1637.0,1974.9 1647.2,1974.9 1657.4,1974.9 1667.6,1974.9 1677.9,1974.9 1688.2,1974.9 1698.5,1974.9 1708.8,1974.9 1719.2,1974.8 1729.6,1974.8 1740.0,1974.8 1750.4,1974.8 1760.9,1974.8 1771.4,1974.8 1781.9,1974.8 1792.5,1974.8 1803.1,1974.8 1813.7,1974.8 1824.3,1974.8 1834.9,1974.8 1845.6,1974.8 1856.3,1974.8 1867.1,1974.8 1877.8,1974.8 1888.6,1974.8 1899.4,1974.8 1910.3,1974.8 1921.1,1974.7 1932.0,1974.7 1942.9,1974.7 1953.9,1974.7 1964.9,1974.7 1975.9,1974.7 1986.9,1974.7 1997.9,1974.7 2009.0,1974.7" fill="none" stroke="#EDB120" stroke-width="8" stroke-linejoin="round"/>
<polyline points="214.5,3185.3 214.7,3181.9 215.2,3175.0 215.9,3165.7 216.8,3154.6 217.7,3141.8 218.8,3127.6 220.1,3112.3 221.4,3096.0 222.8,3078.8 224.3,3060.9 226.0,3042.4 227.7,3023.4 229.5,3004.0 231.3,2984.3 233.3,2964.3 235.4,2944.2 237.5,2924.0 239.7,2903.7 242.0,2883.3 244.3,2863.1 246.7,2842.9 249.2,2822.8 251.8,2802.8 254.4,2783.0 257.1,2763.4 259.9,2743.9 262.7,2724.7 265.6,2705.7 268.5,2687.0 271.5,2668.5 274.6,2650.3 277.7,2632.3 280.9,2614.6 284.2,2597.2 287.5,2580.1 290.8,2563.2 294.3,2546.6 297.7,2530.4 301.3,2514.4 304.9,2498.7 308.5,2483.2 312.2,2468.1 315.9,2453.3 319.7,2438.7 323.6,2424.5 327.5,2410.5 331.5,2396.9 335.5,2383.5 339.5,2370.4 343.6,2357.6 347.8,2345.1 352.0,2332.9 356.2,2320.9 360.5,2309.3 364.9,2297.9 369.3,2286.8 373.7,2276.0 378.2,2265.4 382.8,2255.2 387.4,2245.2 392.0,2235.4 396.7,2225.9 401.4,2216.7 406.2,2207.8 411.0,2199.1 415.8,2190.6 420.7,2182.4 425.7,2174.5 430.7,2166.8 435.7,2159.3 440.8,2152.0 445.9,2145.0 451.1,2138.2 456.3,2131.6 461.5,2125.3 466.8,2119.1 472.2,2113.2 477.5,2107.4 483.0,2101.9 488.4,2096.5 493.9,2091.3 499.4,2086.4 505.0,2081.6 510.6,2076.9 516.3,2072.5 522.0,2068.2 527.8,2064.0 533.5,2060.0 539.4,2056.2 545.2,2052.5 551.1,2049.0 557.1,2045.6 563.0,2042.3 569.0,2039.2 575.1,2036.2 581.2,2033.3 587.3,2030.6 593.5,2027.9 599.7,2025.4 605.9,2022.9 612.2,2020.6 618.5,2018.4 624.9,2016.2 631.3,2014.2 637.7,2012.2 644.2,2010.4 650.7,2008.6 657.2,2006.9 663.8,2005.3 670.4,2003.7 677.1,2002.2 683.8,2000.8 690.5,1999.5 697.2,1998.2 704.0,1997.0 710.9,1995.8 717.7,1994.7 724.6,1993.6 731.6,1992.6 738.5,1991.7 745.5,1990.8 752.6,1989.9 759.6,1989.1 766.8,1988.3 773.9,1987.5 781.1,1986.8 788.3,1986.2 795.5,1985.5 802.8,1984.9 810.1,1984.3 817.5,1983.8 824.9,1983.3 832.3,1982.8 839.7,1982.3 847.2,1981.9 854.7,1981.5 862.3,1981.1 869.8,1980.7 877.5,1980.4 885.1,1980.0 892.8,1979.7 900.5,1979.4 908.2,1979.2 916.0,1978.9 923.8,1978.6 931.7,1978.4 939.6,1978.2 947.5,1978.0 955.4,1977.8 963.4,1977.6 971.4,1977.4 979.4,1977.2 987.5,1977.1 995.6,1976.9 1003.7,1976.8 1011.9,1976.7 1020.1,1976.5 1028.3,1976.4 1036.6,1976.3 1044.8,1976.2 1053.2,1976.1 1061.5,1976.0 1069.9,1975.9 1078.3,1975.9 1086.7,1975.8 1095.2,1975.7 1103.7,1975.7 1112.3,1975.6 1120.8,1975.5 1129.4,1975.5 1138.0,1975.4 1146.7,1975.4 1155.4,1975.3 1164.1,1975.3 1172.9,1975.3 1181.6,1975.2 1190.4,1975.2 1199.3,1975.2 1208.1,1975.1 1217.0,1975.1 1226.0,1975.1 1234.9,1975.0 1243.9,1975.0 1252.9,1975.0 1262.0,1975.0 1271.0,1975.0 1280.1,1974.9 1289.3,1974.9 1298.4,1974.9 1307.6,1974.9 1316.8,1974.9 1326.1,1974.9 1335.4,1974.9 1344.7,1974.8 1354.0,1974.8 1363.4,1974.8 1372.8,1974.8 1382.2,1974.8 1391.6,1974.8 1401.1,1974.8 1410.6,1974.8 1420.2,1974.8 1429.7,1974.8 1439.3,1974.8 1448.9,1974.8 1458.6,1974.8 1468.3,1974.8 1478.0,1974.8 1487.7,1974.7 1497.5,1974.7 1507.3,1974.7 1517.1,1974.7 1526.9,1974.7 1536.8,1974.7 1546.7,1974.7 1556.6,1974.7 1566.6,1974.7 1576.6,1974.7 1586.6,1974.7 1596.6,1974.7 1606.7,1974.7 1616.8,1974.7 1626.9,1974.7 1637.0,1974.7 1647.2,1974.7 1657.4,1974.7 1667.6,1974.7 1677.9,1974.7 1688.2,1974.7 1698.5,1974.7 1708.8,1974.7 1719.2,1974.7 1729.6,1974.7 1740.0,1974.7 1750.4,1974.7 1760.9,1974.7 1771.4,1974.7 1781.9,1974.7 1792.5,1974.7 1803.1,1974.7 1813.7,1974.7 1824.3,1974.7 1834.9,1974.7 1845.6,1974.7 1856.3,1974.7 1867.1,1974.7 1877.8,1974.7 1888.6,1974.7 1899.4,1974.7 1910.3,1974.7 1921.1,1974.7 1932.0,1974.7 1942.9,1974.7 1953.9,1974.7 1964.9,1974.7 1975.9,1974.7 1986.9,1974.7 1997.9,1974.7 2009.0,1974.7" fill="none" stroke="#7E2F8E" stroke-width="8" stroke-linejoin="round"/>
<g font-family='"Liberation Sans", Arial, Helvetica, sans-serif' font-size="62.50" fill="#262626">
<g text-anchor="middle">
<text transform="translate(214.50 3396.60) scale(0.975 1.005)">0</text>
<text transform="translate(470.86 3396.60) scale(0.975 1.005)">0.05</text>
<text transform="translate(727.21 3396.60) scale(0.975 1.005)">0.<tspan font-family="NanumGothic, 'Liberation Sans', sans-serif" font-size="54.8" stroke="#262626" stroke-width="1.8" dx="0.7" dy="-0.8">1</tspan></text>
<text transform="translate(983.57 3396.60) scale(0.975 1.005)">0.<tspan font-family="NanumGothic, 'Liberation Sans', sans-serif" font-size="54.8" stroke="#262626" stroke-width="1.8" dx="0.7" dy="-0.8">1</tspan><tspan dx="-0.7" dy="0.8">5</tspan></text>
<text transform="translate(1239.93 3396.60) scale(0.975 1.005)">0.2</text>
<text transform="translate(1496.29 3396.60) scale(0.975 1.005)">0.25</text>
<text transform="translate(1752.64 3396.60) scale(0.975 1.005)">0.3</text>
<text transform="translate(2009.00 3396.60) scale(0.975 1.005)">0.35</text>
</g><g text-anchor="end">
<text transform="translate(193.20 3338.70) scale(0.975 1.005)">0.6</text>
<text transform="translate(193.20 3107.47) scale(0.975 1.005)">0.7</text>
<text transform="translate(193.20 2876.23) scale(0.975 1.005)">0.8</text>
<text transform="translate(193.20 2645.00) scale(0.975 1.005)">0.9</text>
<text transform="translate(193.20 2413.77) scale(0.975 1.005)"><tspan font-family="NanumGothic, 'Liberation Sans', sans-serif" font-size="54.8" stroke="#262626" stroke-width="1.8" dx="0.7" dy="-0.8">1</tspan></text>
<text transform="translate(193.20 2182.53) scale(0.975 1.005)"><tspan font-family="NanumGothic, 'Liberation Sans', sans-serif" font-size="54.8" stroke="#262626" stroke-width="1.8" dx="0.7" dy="-0.8">1</tspan><tspan dx="-0.7" dy="0.8">.</tspan><tspan font-family="NanumGothic, 'Liberation Sans', sans-serif" font-size="54.8" stroke="#262626" stroke-width="1.8" dx="0.7" dy="-0.8">1</tspan></text>
<text transform="translate(193.20 1951.30) scale(0.975 1.005)"><tspan font-family="NanumGothic, 'Liberation Sans', sans-serif" font-size="54.8" stroke="#262626" stroke-width="1.8" dx="0.7" dy="-0.8">1</tspan><tspan dx="-0.7" dy="0.8">.</tspan>2</text>
</g></g>
<g font-family='"Liberation Sans", Arial, Helvetica, sans-serif' font-size="68.75" fill="#262626" text-anchor="middle">
<text transform="translate(1112.70 3482.60) scale(1.000 1.045)">t</text>
<text font-size="66.90" transform="translate(87.30 2594.80) rotate(-90) scale(1 1.060)">Decoherence</text>
</g>
<rect x="1525.50" y="985.30" width="423.30" height="380.40" fill="#fff" stroke="#262626" stroke-width="2.70"/>
<path d="M1537.10 1036.90H1654.90" stroke="#0072BD" stroke-width="8"/>
<path d="M1537.10 1129.50H1654.90" stroke="#FF0000" stroke-width="8"/>
<path d="M1537.10 1222.20H1654.90" stroke="#EDB120" stroke-width="8"/>
<path d="M1537.10 1314.80H1654.90" stroke="#7E2F8E" stroke-width="8"/>
<g font-family='"Liberation Sans", Arial, Helvetica, sans-serif' font-size="70.40" fill="#000" stroke="#000" stroke-width="1.20">
<text transform="translate(1683.60 1064.50) scale(1 1.020)">x = 0.9</text>
<text transform="translate(1683.60 1157.10) scale(1 1.020)">x = 0.85</text>
<text transform="translate(1683.60 1249.80) scale(1 1.020)">x = 0.8</text>
<text transform="translate(1683.60 1342.40) scale(1 1.020)">x = 0.75</text>
</g>
<rect x="1421.90" y="2744.20" width="538.60" height="457.70" fill="#fff" stroke="#262626" stroke-width="1.80"/>
<path d="M1524.30 2805.80H1638.40" stroke="#0072BD" stroke-width="8"/>
<path d="M1524.30 2917.40H1638.40" stroke="#D95319" stroke-width="8"/>
<path d="M1524.30 3028.70H1638.40" stroke="#EDB120" stroke-width="8"/>
<path d="M1524.30 3139.90H1638.40" stroke="#7E2F8E" stroke-width="8"/>
<g font-family='"Liberation Sans", Arial, Helvetica, sans-serif' font-size="67.80" fill="#000" stroke="#000" stroke-width="1.00">
<text transform="translate(1649.00 2833.50) scale(1 1.040)">η = 0.2</text>
<text transform="translate(1649.00 2945.10) scale(1 1.040)">η = 0.4</text>
<text transform="translate(1649.00 3056.40) scale(1 1.040)">η = 0.6</text>
<text transform="translate(1649.00 3167.60) scale(1 1.040)">η = 0.8</text>
</g>
<g font-family='"Liberation Serif", "Times New Roman", serif' font-size="89.00" fill="#000">
<text transform="translate(985.70 1768.00) scale(0.900 1)"><tspan x="0.00">(</tspan><tspan x="29.56" font-weight="bold">a</tspan><tspan x="76.56">)</tspan></text>
<text transform="translate(971.00 3602.00) scale(0.900 1)"><tspan x="0.00">(</tspan><tspan x="31.67" font-weight="bold">b</tspan><tspan x="86.00">)</tspan></text>
</g>
</svg>
</body></html>
